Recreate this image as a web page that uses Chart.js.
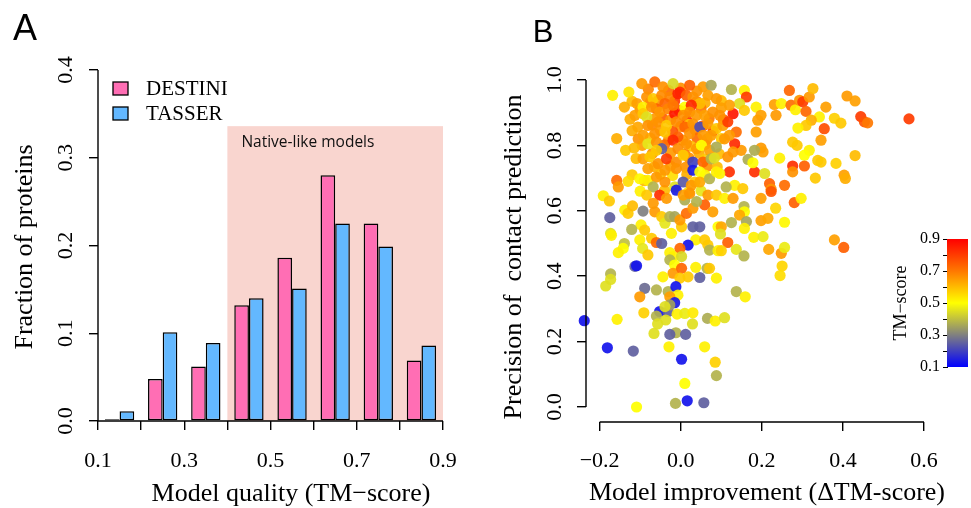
<!DOCTYPE html>
<html>
<head>
<meta charset="utf-8">
<script src="https://cdn.jsdelivr.net/npm/chart.js@4.4.0/dist/chart.umd.min.js"></script>
<style>
  body { margin: 0; background: #fff; width: 971px; height: 508px; position: relative; overflow: hidden; }
  canvas { position: absolute; }
  #histA { left: 0; top: 0; }
  #scatB { left: 480px; top: 0; }
  #cbar { left: 880px; top: 220px; }
</style>
</head>
<body>
<canvas id="histA" width="480" height="508"></canvas>
<canvas id="scatB" width="491" height="508"></canvas>
<canvas id="cbar" width="91" height="170"></canvas>
<script>
// ---- Panel A: distribution of model quality ----
const binMids = [0.15, 0.25, 0.35, 0.45, 0.55, 0.65, 0.75, 0.85];
const destini = [0.002, 0.048, 0.062, 0.132, 0.186, 0.280, 0.225, 0.069];
const tasser  = [0.011, 0.101, 0.089, 0.140, 0.151, 0.225, 0.199, 0.086];
const seriesNames = ["DESTINI", "TASSER"];
const xTicksA = [0.1, 0.2, 0.3, 0.4, 0.5, 0.6, 0.7, 0.8, 0.9];
const yTicksA = [0.0, 0.1, 0.2, 0.3, 0.4];
const nativeRange = [0.4, 0.9];
const nativeTop = 0.336;

// ---- Panel B: improvement vs contact precision ----
const deltaTM = [
  // dense core
  -0.080,-0.030,0.040,0.000,
  -0.120,-0.075,-0.055,-0.015,0.040,0.060,0.100,
  -0.100,-0.060,-0.005,0.015,0.050,0.100,
  -0.125,-0.045,-0.025,0.015,0.070,0.105,
  -0.070,0.000,0.020,0.055,
  -0.120,-0.050,-0.020,0.035,0.080,
  -0.105,-0.075,-0.030,0.005,0.040,0.065,0.100,
  -0.095,-0.040,0.025,0.060,
  -0.070,-0.025,0.010,0.045,0.095,
  -0.110,0.020,0.060,
  -0.065,-0.025,0.012,0.065,0.090,
  -0.120,-0.050,-0.020,0.015,0.060,
  -0.130,-0.090,0.035,
  -0.100,-0.040,0.020,0.050,
  // upper cluster
  -0.096,-0.064,-0.044,-0.019,-0.002,0.022,0.055,0.075,-0.108,-0.084,
  -0.068,-0.047,-0.027,-0.007,0.014,0.030,0.047,0.067,0.088,-0.093,
  -0.039,0.010,0.026,-0.113,-0.093,-0.072,-0.052,-0.031,-0.015,0.006,
  0.022,0.039,0.059,0.079,-0.019,-0.064,-0.084,-0.106,-0.081,-0.056,
  -0.035,-0.011,0.010,0.030,0.047,0.067,0.088,-0.093,-0.064,-0.039,
  -0.007,0.022,0.055,0.075,-0.081,-0.060,-0.047,-0.019,-0.007,0.014,
  0.039,0.051,0.071,0.088,-0.060,-0.093,-0.076,-0.056,-0.035,-0.011,
  0.006,0.030,0.055,0.075,-0.081,-0.039,-0.011,0.030,0.047,-0.101,
  -0.081,-0.060,-0.039,-0.015,0.006,0.026,0.047,0.071,0.088,-0.068,
  -0.011,-0.168,-0.128,-0.139,-0.158,-0.136,-0.115,-0.158,-0.154,
  // upper right
  0.125,0.157,0.162,0.145,0.157,0.129,0.186,0.198,0.190,0.231,
  0.248,0.268,0.272,0.283,0.293,0.301,0.317,0.326,0.309,0.235,
  0.342,0.322,0.309,0.289,0.358,0.354,0.346,0.276,0.287,0.317,
  0.305,0.338,0.346,0.244,0.276,0.305,0.276,0.332,0.256,0.219,
  0.223,0.182,0.207,0.186,0.198,0.203,0.182,0.166,0.178,0.149,
  0.133,0.129,0.116,0.137,0.108,0.120,0.104,0.116,0.120,0.096,
  0.120,0.133,0.153,0.096,0.112,0.083,
  // middle left
  -0.191,-0.176,-0.175,-0.173,-0.171,-0.139,-0.142,-0.154,-0.113,-0.109,
  -0.173,-0.173,-0.185,-0.138,-0.130,-0.119,-0.093,-0.098,-0.121,-0.089,
  -0.101,-0.094,-0.081,-0.072,-0.060,-0.047,-0.064,-0.047,-0.039,-0.027,
  -0.015,-0.023,0.002,-0.002,0.014,0.030,0.010,0.030,0.047,0.037,
  0.059,0.067,0.071,0.092,0.018,-0.002,-0.027,-0.019,0.002,-0.027,
  -0.015,-0.019,0.002,-0.002,0.018,0.047,0.037,0.065,0.071,0.088,
  -0.044,-0.031,-0.060,-0.089,-0.012,-0.101,-0.007,-0.027,-0.084,-0.052,
  -0.035,0.006,0.022,0.067,0.088,0.059,0.039,-0.068,0.079,0.092,
  // middle right
  0.108,0.129,0.198,0.223,0.280,0.297,0.234,0.156,0.157,0.145,
  0.125,0.162,0.157,0.198,0.215,0.256,0.100,0.098,0.180,0.203,
  0.116,0.100,0.137,0.156,0.217,0.248,0.256,0.250,0.245,0.137,
  0.159,
  // bottom
  -0.091,-0.157,-0.052,-0.031,-0.015,-0.027,-0.039,-0.060,-0.037,-0.057,
  -0.009,0.010,0.030,0.029,-0.066,-0.012,-0.027,0.012,0.066,0.085,
  0.108,-0.181,-0.117,-0.029,0.059,0.002,0.085,0.088,0.010,-0.109,
  -0.013,0.016,0.057,-0.238,
  // far right
  0.563,0.444,0.453,0.461,0.410,0.430,0.430,0.403,0.406,0.379,
  0.402,0.379,0.395,0.383
];
const precision = [
  // dense core
  0.972,0.968,0.966,0.975,
  0.935,0.932,0.938,0.936,0.934,0.930,0.937,
  0.910,0.912,0.908,0.906,0.913,0.915,
  0.880,0.884,0.878,0.876,0.882,0.879,
  0.862,0.858,0.864,0.860,
  0.845,0.846,0.843,0.848,0.844,
  0.820,0.822,0.818,0.816,0.823,0.819,0.821,
  0.800,0.802,0.798,0.803,
  0.775,0.777,0.773,0.776,0.774,
  0.760,0.762,0.758,
  0.735,0.737,0.733,0.736,0.734,
  0.710,0.712,0.708,0.711,0.709,
  0.690,0.692,0.688,
  0.660,0.662,0.658,0.661,
  // upper cluster
  0.989,0.994,0.979,0.989,0.963,0.984,0.979,0.984,0.928,0.948,
  0.943,0.953,0.948,0.958,0.953,0.948,0.928,0.953,0.943,0.917,
  0.928,0.917,0.923,0.892,0.897,0.917,0.902,0.912,0.897,0.892,
  0.902,0.892,0.892,0.902,0.923,0.882,0.887,0.856,0.861,0.872,
  0.861,0.872,0.856,0.866,0.856,0.866,0.851,0.831,0.836,0.841,
  0.826,0.836,0.831,0.831,0.805,0.810,0.790,0.816,0.790,0.805,
  0.790,0.800,0.785,0.795,0.785,0.759,0.765,0.744,0.759,0.749,
  0.770,0.749,0.749,0.759,0.729,0.724,0.729,0.724,0.719,0.698,
  0.693,0.703,0.688,0.673,0.688,0.678,0.688,0.698,0.719,0.673,
  0.663,0.953,0.963,0.917,0.821,0.785,0.792,0.693,0.673,
  // upper right
  0.971,0.968,0.948,0.928,0.907,0.897,0.917,0.892,0.877,0.925,
  0.928,0.968,0.923,0.909,0.938,0.933,0.948,0.974,0.904,0.892,
  0.887,0.877,0.861,0.853,0.917,0.851,0.816,0.810,0.800,0.785,
  0.770,0.754,0.749,0.761,0.737,0.737,0.719,0.700,0.678,0.683,
  0.666,0.719,0.714,0.841,0.792,0.780,0.785,0.757,0.747,0.785,
  0.805,0.780,0.765,0.841,0.820,0.831,0.861,0.872,0.923,0.892,
  0.719,0.678,0.668,0.714,0.673,0.761,
  // middle left
  0.646,0.630,0.579,0.531,0.525,0.500,0.485,0.472,0.430,0.432,
  0.407,0.390,0.370,0.602,0.592,0.615,0.599,0.557,0.543,0.541,
  0.511,0.485,0.465,0.516,0.503,0.500,0.597,0.582,0.562,0.582,
  0.582,0.531,0.551,0.572,0.592,0.608,0.633,0.551,0.551,0.511,
  0.511,0.495,0.480,0.478,0.495,0.485,0.472,0.460,0.460,0.450,
  0.434,0.409,0.424,0.394,0.398,0.396,0.427,0.424,0.424,0.394,
  0.398,0.353,0.358,0.363,0.368,0.337,0.342,0.337,0.648,0.648,
  0.638,0.648,0.653,0.648,0.648,0.618,0.628,0.623,0.597,0.551,
  // middle right
  0.638,0.638,0.638,0.659,0.625,0.638,0.608,0.613,0.597,0.587,
  0.564,0.567,0.546,0.570,0.577,0.565,0.551,0.529,0.519,0.521,
  0.503,0.478,0.482,0.462,0.482,0.470,0.488,0.431,0.402,0.353,
  0.337,
  // bottom
  0.288,0.268,0.292,0.292,0.319,0.312,0.307,0.278,0.266,0.254,
  0.284,0.286,0.288,0.254,0.225,0.227,0.222,0.222,0.271,0.263,
  0.273,0.181,0.171,0.184,0.184,0.146,0.137,0.096,0.072,0.000,
  0.011,0.019,0.013,0.264,
  // far right
  0.881,0.888,0.872,0.869,0.951,0.936,0.769,0.709,0.699,0.511,
  0.488,0.883,0.868,0.745
];
const tmScore = [
  // dense core
  0.68,0.72,0.66,0.66,
  0.60,0.70,0.66,0.80,0.68,0.62,0.60,
  0.66,0.74,0.78,0.66,0.70,0.64,
  0.62,0.74,0.66,0.84,0.70,0.72,
  0.68,0.66,0.58,0.74,
  0.62,0.65,0.76,0.67,0.80,
  0.66,0.60,0.66,0.65,0.72,0.66,0.58,
  0.64,0.72,0.60,0.66,
  0.66,0.65,0.70,0.62,0.60,
  0.60,0.66,0.58,
  0.62,0.64,0.66,0.66,0.60,
  0.58,0.60,0.55,0.62,0.52,
  0.55,0.60,0.58,
  0.52,0.60,0.55,0.46,
  // upper cluster
  0.65,0.72,0.66,0.44,0.82,0.74,0.65,0.36,0.64,0.66,
  0.58,0.67,0.68,0.84,0.74,0.66,0.60,0.64,0.65,0.52,
  0.73,0.50,0.83,0.64,0.58,0.66,0.65,0.68,0.86,0.66,
  0.67,0.65,0.64,0.66,0.70,0.65,0.45,0.63,0.66,0.66,
  0.58,0.67,0.73,0.66,0.22,0.65,0.58,0.64,0.66,0.59,
  0.74,0.66,0.65,0.64,0.46,0.66,0.25,0.83,0.67,0.66,
  0.65,0.50,0.64,0.37,0.58,0.64,0.58,0.66,0.80,0.67,
  0.58,0.20,0.73,0.38,0.64,0.65,0.66,0.14,0.50,0.51,
  0.52,0.65,0.66,0.45,0.24,0.65,0.63,0.38,0.52,0.38,
  0.14,0.52,0.54,0.62,0.62,0.58,0.60,0.72,0.65,
  // upper right
  0.38,0.52,0.80,0.45,0.58,0.86,0.52,0.64,0.64,0.64,
  0.52,0.73,0.72,0.52,0.66,0.80,0.65,0.60,0.73,0.65,
  0.52,0.62,0.58,0.52,0.64,0.77,0.64,0.58,0.58,0.52,
  0.50,0.58,0.58,0.52,0.82,0.74,0.66,0.58,0.72,0.74,
  0.66,0.82,0.45,0.64,0.65,0.64,0.37,0.37,0.50,0.65,
  0.83,0.65,0.66,0.72,0.65,0.65,0.64,0.80,0.64,0.66,
  0.82,0.52,0.58,0.52,0.38,0.45,
  // middle left
  0.52,0.58,0.25,0.45,0.52,0.40,0.50,0.52,0.25,0.13,
  0.38,0.45,0.45,0.52,0.58,0.60,0.30,0.52,0.38,0.58,
  0.52,0.46,0.58,0.58,0.73,0.25,0.65,0.58,0.46,0.38,
  0.36,0.52,0.58,0.65,0.72,0.65,0.37,0.25,0.25,0.52,
  0.58,0.58,0.38,0.52,0.13,0.73,0.52,0.52,0.44,0.38,
  0.50,0.65,0.73,0.58,0.58,0.25,0.52,0.38,0.58,0.52,
  0.52,0.38,0.38,0.27,0.13,0.65,0.52,0.64,0.58,0.82,
  0.65,0.64,0.66,0.65,0.58,0.74,0.38,0.65,0.64,0.50,
  // middle right
  0.52,0.65,0.64,0.76,0.74,0.52,0.56,0.38,0.50,0.63,
  0.38,0.36,0.52,0.64,0.63,0.51,0.63,0.45,0.52,0.47,
  0.74,0.57,0.46,0.38,0.63,0.65,0.47,0.56,0.55,0.38,
  0.52,
  // bottom
  0.57,0.52,0.13,0.25,0.14,0.35,0.45,0.38,0.45,0.45,
  0.52,0.47,0.53,0.45,0.45,0.38,0.25,0.25,0.37,0.52,
  0.45,0.13,0.25,0.52,0.52,0.13,0.57,0.38,0.50,0.50,
  0.38,0.13,0.25,0.13,
  // far right
  0.80,0.80,0.76,0.70,0.65,0.64,0.60,0.64,0.62,0.64,
  0.74,0.57,0.58,0.57
];
const xTicksB = [-0.2, 0.0, 0.2, 0.4, 0.6];
const yTicksB = [0.0, 0.2, 0.4, 0.6, 0.8, 1.0];

// colour scale for TM-score
const tmStops  = [0.1, 0.3, 0.5, 0.7, 0.9];
const tmColors = [[0, 0, 255], [128, 128, 128], [255, 255, 0], [255, 120, 0], [255, 0, 0]];
const tmTicks  = [0.1, 0.2, 0.3, 0.4, 0.5, 0.6, 0.7, 0.8, 0.9];

function tmColor(v, alpha) {
  let i = 0;
  while (i < tmStops.length - 2 && v > tmStops[i + 1]) i++;
  const t = Math.min(1, Math.max(0, (v - tmStops[i]) / (tmStops[i + 1] - tmStops[i])));
  const a = tmColors[i], b = tmColors[i + 1];
  const c = a.map((ch, k) => Math.round(ch + (b[k] - ch) * t));
  return `rgba(${c[0]},${c[1]},${c[2]},${alpha})`;
}

const SERIF = "'Liberation Serif', 'Times New Roman', serif";
const SANS = "'Liberation Sans', Arial, sans-serif";
const PINK = "#ff6eb4";
const BLUE = "#63b8ff";

Chart.defaults.animation = false;
Chart.defaults.color = "#000";

// draw free text (titles, panel letters)
const textItems = {
  id: "textItems",
  afterDraw(chart, args, opts) {
    const ctx = chart.ctx;
    (opts.items || []).forEach(it => {
      ctx.save();
      ctx.font = it.font;
      ctx.fillStyle = "#000";
      ctx.textAlign = it.align || "center";
      ctx.textBaseline = it.baseline || "alphabetic";
      ctx.translate(it.x, it.y);
      if (it.rot) ctx.rotate(it.rot);
      ctx.fillText(it.text, 0, 0);
      ctx.restore();
    });
  }
};

// R-style axis lines, from first to last tick
const rAxes = {
  id: "rAxes",
  afterDraw(chart) {
    const { ctx, chartArea, scales } = chart;
    const xt = scales.x.ticks, yt = scales.y.ticks;
    ctx.save();
    ctx.strokeStyle = "#000";
    ctx.lineWidth = 1.4;
    ctx.beginPath();
    ctx.moveTo(scales.x.getPixelForValue(xt[0].value), chartArea.bottom);
    ctx.lineTo(scales.x.getPixelForValue(xt[xt.length - 1].value), chartArea.bottom);
    ctx.moveTo(chartArea.left, scales.y.getPixelForValue(yt[0].value));
    ctx.lineTo(chartArea.left, scales.y.getPixelForValue(yt[yt.length - 1].value));
    ctx.stroke();
    ctx.restore();
  }
};

// shaded "native-like" band and legend for panel A
const nativeBand = {
  id: "nativeBand",
  beforeDatasetsDraw(chart) {
    const { ctx, scales: { x, y } } = chart;
    const x1 = x.getPixelForValue(nativeRange[0]), x2 = x.getPixelForValue(nativeRange[1]);
    const y1 = y.getPixelForValue(nativeTop), y2 = y.getPixelForValue(0);
    ctx.save();
    ctx.fillStyle = "#f9d5cf";
    ctx.fillRect(x1, y1, x2 - x1, y2 - y1);
    ctx.font = "15.5px 'Open Sans', sans-serif";
    ctx.fillStyle = "#111";
    ctx.textBaseline = "middle";
    ctx.fillText("Native-like models", x1 + 14, y1 + 16);
    ctx.restore();
  },
  afterDraw(chart) {
    const ctx = chart.ctx;
    ctx.save();
    chart.data.datasets.forEach((ds, i) => {
      const top = 82 + i * 25;
      ctx.fillStyle = ds.backgroundColor;
      ctx.fillRect(113, top, 15, 13);
      ctx.strokeStyle = "#000";
      ctx.lineWidth = 1.3;
      ctx.strokeRect(113, top, 15, 13);
      ctx.fillStyle = "#000";
      ctx.font = "21px " + SERIF;
      ctx.textBaseline = "middle";
      ctx.fillText(ds.label, 146, top + 7);
    });
    ctx.restore();
  }
};

const tickGrid = { drawOnChartArea: false, drawTicks: true, tickLength: 9, color: "#000", lineWidth: 1.4, offset: false };

new Chart(document.getElementById("histA"), {
  type: "bar",
  data: {
    datasets: [
      { label: seriesNames[0], data: binMids.map((x, i) => ({ x, y: destini[i] })), backgroundColor: PINK },
      { label: seriesNames[1], data: binMids.map((x, i) => ({ x, y: tasser[i] })), backgroundColor: BLUE }
    ]
  },
  options: {
    responsive: false,
    events: [],
    layout: { padding: { left: 0, right: 37, top: 70, bottom: 0 } },
    datasets: { bar: { borderColor: "#000", borderWidth: 1.5, borderSkipped: false, categoryPercentage: 0.68, barPercentage: 1 } },
    plugins: {
      legend: { display: false },
      tooltip: { enabled: false },
      textItems: { items: [
        { text: "A", x: 25, y: 40, font: "36px " + SANS },
        { text: "Model quality (TM\u2212score)", x: 291, y: 501, font: "26px " + SERIF },
        { text: "Fraction of proteins", x: 32, y: 247, rot: -Math.PI / 2, font: "26px " + SERIF }
      ] }
    },
    scales: {
      x: {
        type: "linear", min: 0.1, max: 0.9, offset: false,
        grid: tickGrid, border: { display: false },
        afterBuildTicks: s => { s.ticks = xTicksA.map(v => ({ value: v })); },
        afterFit: s => { s.height = 87; },
        ticks: { autoSkip: false, maxRotation: 0, padding: 18, font: { family: SERIF, size: 22 },
                 callback: (v, i) => (i % 2 === 0 ? v.toFixed(1) : "") }
      },
      y: {
        min: 0, max: 0.4,
        grid: tickGrid, border: { display: false },
        afterBuildTicks: s => { s.ticks = yTicksA.map(v => ({ value: v })); },
        afterFit: s => { s.width = 98; },
        ticks: { autoSkip: false, minRotation: 90, maxRotation: 90, crossAlign: "center", padding: 9,
                 font: { family: SERIF, size: 22 }, callback: v => v.toFixed(1) }
      }
    }
  },
  plugins: [nativeBand, rAxes, textItems]
});

new Chart(document.getElementById("scatB"), {
  type: "scatter",
  data: {
    datasets: [{
      data: deltaTM.map((x, i) => ({ x, y: precision[i] })),
      pointBackgroundColor: tmScore.map(v => tmColor(v, 0.92)),
      pointBorderWidth: 0,
      pointRadius: 5.6,
      pointHoverRadius: 5.6,
      clip: false
    }]
  },
  options: {
    responsive: false,
    events: [],
    layout: { padding: { left: 0, right: 47, top: 80, bottom: 0 } },
    plugins: {
      legend: { display: false },
      tooltip: { enabled: false },
      textItems: { items: [
        { text: "B", x: 63, y: 42, font: "31px " + SANS },
        { text: "Model improvement (\u0394TM-score)", x: 287, y: 500, font: "26px " + SERIF },
        { text: "Precision of  contact prediction", x: 41, y: 257, rot: -Math.PI / 2, font: "26px " + SERIF }
      ] }
    },
    scales: {
      x: {
        type: "linear", min: -0.2337, max: 0.6,
        grid: tickGrid, border: { display: false },
        afterBuildTicks: s => { s.ticks = xTicksB.map(v => ({ value: v })); },
        afterFit: s => { s.height = 86; },
        ticks: { autoSkip: false, maxRotation: 0, padding: 17, font: { family: SERIF, size: 22 },
                 callback: v => (v < 0 ? "\u2212" : "") + Math.abs(v).toFixed(1) }
      },
      y: {
        type: "linear", min: -0.0459, max: 1.0,
        grid: tickGrid, border: { display: false },
        afterBuildTicks: s => { s.ticks = yTicksB.map(v => ({ value: v })); },
        afterFit: s => { s.width = 106; },
        ticks: { autoSkip: false, minRotation: 90, maxRotation: 90, crossAlign: "center", padding: 8,
                 font: { family: SERIF, size: 22 }, callback: v => v.toFixed(1) }
      }
    }
  },
  plugins: [rAxes, textItems]
});

// colour bar as a single floating bar filled with the TM-score ramp
new Chart(document.getElementById("cbar"), {
  type: "bar",
  data: {
    labels: [""],
    datasets: [{
      data: [[tmStops[0], tmStops[tmStops.length - 1]]],
      borderWidth: 0,
      categoryPercentage: 1,
      barPercentage: 1,
      backgroundColor: ctx => {
        const chart = ctx.chart;
        const ys = chart.scales.y;
        if (!chart.chartArea || !ys) return "#888";
        const lo = tmStops[0], hi = tmStops[tmStops.length - 1];
        const p0 = ys.getPixelForValue(lo), p1 = ys.getPixelForValue(hi);
        if (!isFinite(p0) || !isFinite(p1)) return "#888";
        const g = chart.ctx.createLinearGradient(0, p0, 0, p1);
        tmStops.forEach(s => g.addColorStop((s - lo) / (hi - lo), tmColor(s, 1)));
        return g;
      }
    }]
  },
  options: {
    responsive: false,
    events: [],
    layout: { padding: { left: 0, right: 3, top: 19, bottom: 23 } },
    plugins: { legend: { display: false }, tooltip: { enabled: false } },
    scales: {
      x: { display: false },
      y: {
        min: 0.1, max: 0.9,
        grid: { drawOnChartArea: false, drawTicks: true, tickLength: 4, color: "#000", lineWidth: 1 },
        border: { display: true, color: "#000", width: 1 },
        afterBuildTicks: s => { s.ticks = tmTicks.map(v => ({ value: v })); },
        afterFit: s => { s.width = 67; },
        title: { display: true, text: "TM\u2212score", font: { family: SERIF, size: 18, lineHeight: 1 }, padding: { top: 12, bottom: 0 } },
        ticks: { autoSkip: false, padding: 3, font: { family: SERIF, size: 16 },
                 callback: (v, i) => (i % 2 === 0 ? v.toFixed(1) : "") }
      }
    }
  }
});
</script>
</body>
</html>
